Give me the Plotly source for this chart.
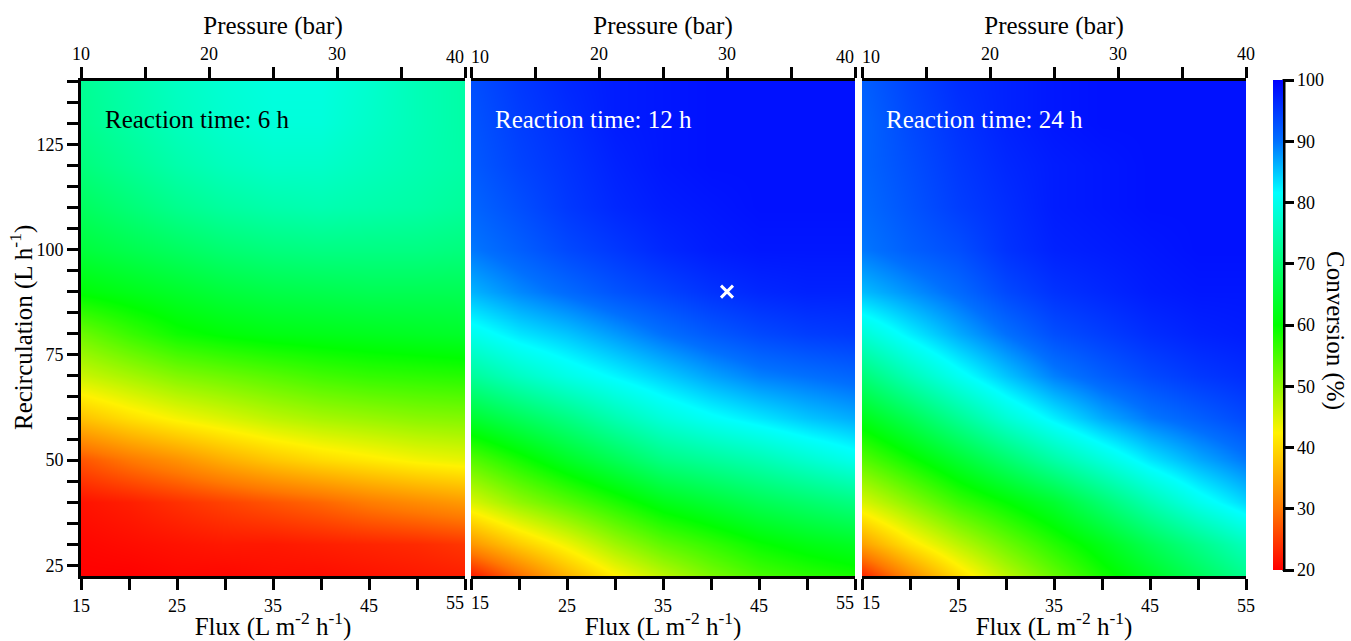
import plotly.graph_objects as go

# ---------------- data ----------------
FLUX = [15, 20, 25, 30, 35, 40, 45, 50, 55]                     # L m-2 h-1
RECIRC = [22.5, 30, 40, 50, 60, 70, 80, 90, 100, 110, 120, 130, 140]  # L h-1
PRESSURE_RANGE = [10, 40]                                      # bar (top axis)
TIMES = ["6 h", "12 h", "24 h"]

# conversion (%) rows follow RECIRC (bottom -> top), columns follow FLUX
CONV_6H = [
    [20, 20, 20.5, 20.5, 21, 21, 21.5, 22, 22.5],
    [20.5, 21, 21.5, 22, 22, 22.5, 23, 23.5, 24.5],
    [21.5, 22.5, 24, 25.5, 27, 28.5, 30.5, 32, 33.5],
    [27, 30, 32.5, 35.5, 38, 40, 41.5, 43, 44],
    [37.5, 40.5, 43, 45, 47, 48.5, 49.5, 50.5, 51],
    [46, 48.5, 51, 52.5, 54, 55.5, 56.5, 57, 57.5],
    [52.5, 56, 59, 60.5, 61.5, 62, 62.5, 63, 63.5],
    [60.5, 62, 63.5, 65, 66, 66.5, 67, 67, 67],
    [65, 66.5, 68, 69.5, 70.5, 71, 71, 71, 70.5],
    [68, 70, 72, 73.5, 74.5, 75, 74.5, 74, 73],
    [70.5, 72.5, 74.5, 76, 77, 77, 76, 75, 74],
    [72, 74, 76, 77.5, 78.5, 78.5, 77, 75.5, 74],
    [72.5, 74.5, 76.5, 78, 79, 79, 77.5, 75.5, 74],
]
CONV_12H = [
    [22, 29, 36, 42, 47, 51.5, 55, 57, 58.5],
    [33, 38.5, 43.5, 49, 53.5, 56.5, 59.5, 61.5, 63],
    [45, 50, 54, 58, 62, 64.5, 67, 69, 71],
    [54, 58.5, 63, 67, 71, 73, 75, 77.5, 80],
    [64, 67.5, 71, 75, 78.5, 81, 83, 85, 86.5],
    [73, 76.5, 79.5, 82, 84.5, 87, 89, 90, 91],
    [80, 83, 85, 87.5, 90, 92, 93.5, 94.5, 95],
    [86, 88.5, 90.5, 92.5, 94, 95.5, 96.5, 97, 97],
    [89.5, 91.5, 93.5, 95, 96.5, 97.5, 98, 98, 98],
    [91, 93, 95, 96.5, 97.5, 98, 98.5, 98.5, 98.5],
    [92, 94, 95.5, 97, 98, 98.5, 98.5, 98.5, 98.5],
    [92.5, 94.5, 96, 97.5, 98, 98.5, 98.5, 98.5, 98.5],
    [93, 95, 96.5, 97.5, 98, 98.5, 98.5, 98.5, 98.5],
]
CONV_24H = [
    [23, 32, 40, 47, 53, 58.5, 63, 67.5, 72],
    [34, 41, 47, 52.5, 57.5, 62, 67, 71.5, 76],
    [45, 50.5, 56, 60, 64, 69.5, 75, 80, 84],
    [54, 59, 64, 69, 74, 78.5, 83, 86.5, 89.5],
    [62, 67, 72.5, 78, 82.5, 86.5, 89.5, 91.5, 93.5],
    [70, 75.5, 80.5, 85, 89, 91.5, 93.5, 95, 96],
    [78, 82.5, 86.5, 90, 93, 94.5, 96, 97, 97.5],
    [85.5, 88, 90.5, 93.5, 95.5, 96.5, 97.5, 98, 98],
    [89.5, 91.5, 93, 95.5, 97, 97.5, 98, 98.5, 98.5],
    [90.5, 92.5, 94.5, 96, 97.5, 98, 98.5, 98.5, 98.5],
    [91, 93, 95, 96.5, 97.5, 98, 98.5, 98.5, 98.5],
    [91, 93.5, 95.5, 97, 98, 98.5, 98.5, 98.5, 98.5],
    [91.5, 94, 96, 97, 98, 98.5, 98.5, 98.5, 98.5],
]
OPT_PRESSURE = [30]   # bar, optimum marked in the 12 h panel
OPT_RECIRC = [90]     # L h-1

FLUX_LABELS = [15, 25, 35, 45, 55]
FLUX_MINOR = [20, 30, 40, 50]
PRES_LABELS = [10, 20, 30, 40]
PRES_MINOR = [15, 25, 35]
RECIRC_LABELS = [25, 50, 75, 100, 125]
CBAR_TICKS = [20, 30, 40, 50, 60, 70, 80, 90, 100]

# ---------------- styling ----------------
FONT = "Liberation Serif, Times New Roman, serif"
COLORSCALE = [
    [0.0, "#FF0000"], [0.125, "#FF7800"], [0.28, "#FFF200"],
    [0.5, "#00FF00"], [0.77, "#00FFFF"], [0.875, "#0070FF"], [1.0, "#0000FF"],
]
W, H = 1351, 641
ML, MR, MT, MB = 81, 105, 81, 65
PW = W - ML - MR
PH = H - MT - MB
DOMAINS = [[0, 384 / PW], [390 / PW, 774 / PW], [781 / PW, 1.0]]
TICKFONT = dict(size=18, family=FONT, color="black")
BIGFONT = dict(size=25, family=FONT, color="black")

fig = go.Figure()
conv_sets = [CONV_6H, CONV_12H, CONV_24H]
for i, z in enumerate(conv_sets):
    n = "" if i == 0 else str(i + 1)
    fig.add_trace(go.Heatmap(
        x=FLUX, y=RECIRC, z=z, zmin=20, zmax=100, zsmooth="best",
        colorscale=COLORSCALE, xaxis="x" + n, yaxis="y" + n,
        showscale=(i == 2),
        colorbar=dict(
            x=(1273 - ML) / PW, xanchor="left", xpad=0, ypad=0,
            y=1 + 1 / PH, yanchor="top",
            lenmode="pixels", len=490, thickness=10, outlinewidth=0,
            tickvals=CBAR_TICKS, ticks="outside", ticklen=11, tickwidth=3,
            tickcolor="black", tickfont=TICKFONT,
        ) if i == 2 else None,
        hoverinfo="skip",
    ))
    # invisible trace to register the top pressure axis of this panel
    fig.add_trace(go.Scatter(
        x=PRESSURE_RANGE, y=[None, None], mode="markers", xaxis="x" + str(i + 4),
        yaxis="y" + n, showlegend=False, hoverinfo="skip",
        marker=dict(opacity=0)))

fig.add_trace(go.Scatter(
    x=OPT_PRESSURE, y=OPT_RECIRC, mode="markers", xaxis="x5", yaxis="y2",
    marker=dict(symbol="x-thin", size=12, line=dict(width=3, color="white"), color="white"),
    showlegend=False, hoverinfo="skip"))

axis_common = dict(
    showline=True, linewidth=3, linecolor="black", mirror=False,
    ticks="outside", ticklen=11, tickwidth=3, tickcolor="black",
    showgrid=False, zeroline=False, tickfont=TICKFONT, automargin=False,
)
minor_common = dict(ticks="outside", ticklen=11, tickwidth=3,
                    tickcolor="black", showgrid=False)
flux_title = dict(text="Flux (L m<sup>-2</sup> h<sup>-1</sup>)", font=BIGFONT, standoff=0)
pres_title = dict(text="Pressure (bar)", font=BIGFONT, standoff=3)

layout = dict(
    width=W, height=H, margin=dict(l=ML, r=MR, t=MT, b=MB, autoexpand=False),
    paper_bgcolor="white", plot_bgcolor="white",
    font=dict(family=FONT, size=18, color="black"),
    showlegend=False,
)
annotations = []
for i in range(3):
    n = "" if i == 0 else str(i + 1)
    # edge labels that collide with the neighbour panel are drawn as nudged texts
    flux_major = list(FLUX_LABELS)
    pres_major = list(PRES_LABELS)
    flux_minor = list(FLUX_MINOR)
    pres_minor = list(PRES_MINOR)
    nudged = []
    if i > 0:
        flux_major.remove(FLUX_LABELS[0]); flux_minor.append(FLUX_LABELS[0])
        pres_major.remove(PRES_LABELS[0]); pres_minor.append(PRES_LABELS[0])
        nudged += [("x" + n, FLUX_LABELS[0], "left", "bottom"),
                   ("x" + str(i + 4), PRES_LABELS[0], "left", "top")]
    if i < 2:
        flux_major.remove(FLUX_LABELS[-1]); flux_minor.append(FLUX_LABELS[-1])
        pres_major.remove(PRES_LABELS[-1]); pres_minor.append(PRES_LABELS[-1])
        nudged += [("x" + n, FLUX_LABELS[-1], "right", "bottom"),
                   ("x" + str(i + 4), PRES_LABELS[-1], "right", "top")]
    for ax, val, anchor, side in nudged:
        annotations.append(dict(
            text=str(val), xref=ax, x=val, yref="y" + n + " domain",
            y=0 if side == "bottom" else 1, yanchor="middle",
            yshift=-27 if side == "bottom" else 24,
            xanchor=anchor, xshift=-1 if anchor == "right" else 0,
            showarrow=False, font=TICKFONT, borderpad=0, borderwidth=0))

    layout["xaxis" + n] = dict(
        axis_common, domain=DOMAINS[i], range=[FLUX[0], FLUX[-1]],
        anchor="y" + n, side="bottom", tickmode="array", tickvals=flux_major,
        minor=dict(minor_common, tickmode="array", tickvals=flux_minor),
        title=flux_title,
    )
    layout["xaxis" + str(i + 4)] = dict(
        axis_common, overlaying="x" + n, anchor="y" + n, side="top",
        range=PRESSURE_RANGE, tickmode="array", tickvals=pres_major,
        minor=dict(minor_common, tickmode="array", tickvals=pres_minor),
        title=pres_title,
    )
layout["yaxis"] = dict(
    axis_common, domain=[0, 1], anchor="x", range=[RECIRC[0], RECIRC[-1]],
    tickmode="array", tickvals=RECIRC_LABELS, ticklabelstandoff=0,
    minor=dict(minor_common, dtick=5, tick0=25),
)
for n in ["2", "3"]:
    layout["yaxis" + n] = dict(
        domain=[0, 1], anchor="x" + n, matches="y", range=[RECIRC[0], RECIRC[-1]],
        showticklabels=False, ticks="", showline=False, showgrid=False, zeroline=False)

annotations.append(dict(
    text="Recirculation (L h<sup>-1</sup>)", xref="paper", yref="paper",
    x=(21 - ML) / PW, y=(H - MB - 328) / PH, xanchor="center", yanchor="middle",
    textangle=-90, showarrow=False, font=BIGFONT))
for i, t in enumerate(TIMES):
    n = "" if i == 0 else str(i + 1)
    annotations.append(dict(
        text="Reaction time: " + t, xref="x" + n + " domain", yref="y" + n + " domain",
        x=22 / 384, y=(H - MB - 119) / PH, xanchor="left", yanchor="middle",
        showarrow=False, font=dict(BIGFONT, color="black" if i == 0 else "white")))
annotations.append(dict(
    text="Conversion (%)", xref="paper", yref="paper",
    x=(1335 - ML) / PW, y=(H - MB - 330) / PH,
    xanchor="center", yanchor="middle", textangle=90, showarrow=False,
    font=BIGFONT))
layout["annotations"] = annotations
layout["shapes"] = [dict(
    type="line", xref="paper", yref="paper",
    x0=(1284 - ML) / PW, x1=(1284 - ML) / PW,
    y0=(H - MB - 571) / PH, y1=(H - MB - 79) / PH,
    line=dict(color="black", width=3))]

fig.update_layout(**layout)
fig.write_html("out.html", config={"displayModeBar": False},
               post_script="document.body.style.margin='0px';")
